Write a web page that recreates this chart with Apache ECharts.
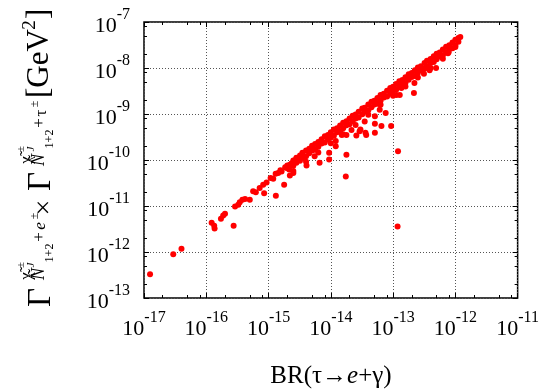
<!DOCTYPE html>
<html><head><meta charset="utf-8">
<script src="https://cdn.jsdelivr.net/npm/echarts@6/dist/echarts.min.js"></script>
<style>html,body{margin:0;padding:0;background:#fff}#c{width:542px;height:389px}</style>
</head><body><div id="c"></div>
<script>
// ---- data ----
const xMajorExponents = [-17, -16, -15, -14, -13, -12, -11];
const yMajorExponents = [-13, -12, -11, -10, -9, -8, -7];
const minorMantissas = [2, 5, 8];

// dense band along the upper envelope: [BR(tau->e gamma), Gamma x Gamma]
const bandPoints = [
 [2.5e-15,9.8e-11],[2.5e-15,7.5e-11],[2.5e-15,5.8e-11],
 [2.8e-15,1.12e-10],[2.8e-15,8.7e-11],
 [3.2e-15,1.25e-10],[3.2e-15,9.6e-11],
 [3.5e-15,1.44e-10],[3.5e-15,1.12e-10],
 [4.0e-15,1.6e-10],[4.0e-15,1.2e-10],[4.0e-15,9.2e-11],
 [4.5e-15,1.76e-10],[4.5e-15,1.4e-10],
 [5.0e-15,2.05e-10],[5.0e-15,1.6e-10],
 [5.6e-15,2.24e-10],[5.6e-15,1.68e-10],
 [6.3e-15,2.46e-10],[6.3e-15,1.95e-10],[6.3e-15,1.45e-10],
 [7.1e-15,2.84e-10],[7.1e-15,2.27e-10],
 [8.0e-15,3.28e-10],[8.0e-15,2.4e-10],
 [9.0e-15,3.51e-10],[9.0e-15,2.79e-10],
 [1.0e-14,4.0e-10],[1.0e-14,3.1e-10],[1.0e-14,2.3e-10],
 [1.12e-14,4.59e-10],[1.12e-14,3.36e-10],
 [1.26e-14,4.91e-10],[1.26e-14,4.03e-10],
 [1.41e-14,5.64e-10],[1.41e-14,4.23e-10],
 [1.58e-14,6.48e-10],[1.58e-14,4.9e-10],[1.58e-14,3.63e-10],
 [1.78e-14,6.94e-10],[1.78e-14,5.7e-10],
 [2.0e-14,8.0e-10],[2.0e-14,6.0e-10],
 [2.24e-14,9.18e-10],[2.24e-14,6.94e-10],
 [2.5e-14,9.75e-10],[2.5e-14,8.0e-10],[2.5e-14,5.75e-10],
 [2.8e-14,1.12e-9],[2.8e-14,8.4e-10],
 [3.2e-14,1.31e-9],[3.2e-14,9.9e-10],
 [3.5e-14,1.37e-9],[3.5e-14,1.12e-9],
 [4.0e-14,1.6e-9],[4.0e-14,1.2e-9],[4.0e-14,9.6e-10],
 [4.5e-14,1.85e-9],[4.5e-14,1.4e-9],
 [5.0e-14,1.95e-9],[5.0e-14,1.6e-9],
 [5.6e-14,2.24e-9],[5.6e-14,1.68e-9],
 [6.3e-14,2.58e-9],[6.3e-14,1.95e-9],[6.3e-14,1.58e-9],
 [7.1e-14,2.77e-9],[7.1e-14,2.27e-9],
 [8.0e-14,3.2e-9],[8.0e-14,2.4e-9],
 [9.0e-14,3.69e-9],[9.0e-14,2.79e-9],
 [1.0e-13,3.9e-9],[1.0e-13,3.2e-9],[1.0e-13,2.5e-9],
 [1.12e-13,4.48e-9],[1.12e-13,3.36e-9],
 [1.26e-13,5.17e-9],[1.26e-13,3.9e-9],
 [1.41e-13,5.5e-9],[1.41e-13,4.51e-9],
 [1.58e-13,6.32e-9],[1.58e-13,4.74e-9],[1.58e-13,3.95e-9],
 [1.78e-13,7.3e-9],[1.78e-13,5.52e-9],
 [2.0e-13,7.8e-9],[2.0e-13,6.4e-9],
 [2.24e-13,8.96e-9],[2.24e-13,6.72e-9],
 [2.5e-13,1.03e-8],[2.5e-13,7.75e-9],[2.5e-13,6.25e-9],
 [2.8e-13,1.09e-8],[2.8e-13,8.96e-9],
 [3.2e-13,1.28e-8],[3.2e-13,9.6e-9],
 [3.5e-13,1.44e-8],[3.5e-13,1.09e-8],
 [4.0e-13,1.56e-8],[4.0e-13,1.28e-8],[4.0e-13,1.0e-8],
 [4.5e-13,1.8e-8],[4.5e-13,1.35e-8],
 [5.0e-13,2.05e-8],[5.0e-13,1.55e-8],
 [5.6e-13,2.18e-8],[5.6e-13,1.79e-8],
 [6.3e-13,2.52e-8],[6.3e-13,1.89e-8],[6.3e-13,1.58e-8],
 [7.1e-13,2.91e-8],[7.1e-13,2.2e-8],
 [8.0e-13,3.12e-8],[8.0e-13,2.56e-8],
 [9.0e-13,3.6e-8],[9.0e-13,2.7e-8],
 [1.0e-12,4.1e-8],[1.0e-12,3.1e-8],
 [1.12e-12,4.48e-8],[1.12e-12,3.7e-8],
 [1.2e-12,4.7e-8]
];

// sparser start of the band
const lowBandPoints = [
 [1.08e-15,4.07e-11],[1.19e-15,3.9e-11],[1.3e-15,5.0e-11],[1.43e-15,5.2e-11],
 [1.55e-15,6.0e-11],[1.62e-15,5.6e-11],[1.85e-15,7.0e-11],[1.95e-15,6.7e-11],
 [2.0e-15,7.6e-11],[2.14e-15,6.2e-11],[2.2e-15,7.9e-11],[2.2e-15,4.6e-11],
 [2.35e-15,8.5e-11],[2.6e-15,9.8e-11]
];

// isolated points
const outlierPoints = [
 [1.25e-17,3.3e-13],[2.95e-17,8.9e-13],[4.0e-17,1.17e-12],
 [1.22e-16,4.3e-12],[1.34e-16,3.7e-12],[1.36e-16,3.25e-12],[1.72e-16,5.3e-12],
 [1.87e-16,6.2e-12],[2.0e-16,6.8e-12],[2.75e-16,3.7e-12],[2.9e-16,9.8e-12],
 [3.26e-16,1.07e-11],[3.45e-16,1.2e-11],[3.8e-16,1.37e-11],[4.2e-16,1.42e-11],
 [5.0e-16,1.37e-11],[5.66e-16,2.09e-11],[6.25e-16,2.0e-11],[7.2e-16,2.47e-11],
 [8.2e-16,2.9e-11],[8.5e-16,1.9e-11],[9.3e-16,3.26e-11],[1.31e-15,1.67e-11],
 [1.78e-15,2.9e-11],[2.5e-15,5.2e-11],[4.07e-15,7.6e-11],[5.5e-15,1.2e-10],
 [6.6e-15,8.7e-11],[9.4e-15,1.43e-10],[9.4e-15,1.03e-10],[1.2e-14,2.6e-10],
 [1.2e-14,2.0e-10],[1.78e-14,1.3e-10],[1.74e-14,4.4e-11],[1.5e-14,3.5e-10],
 [1.78e-14,3.5e-10],[2.15e-14,4.5e-10],[2.57e-14,3.4e-10],[2.9e-14,4.2e-10],
 [2.99e-14,4.6e-10],[3.5e-14,6.9e-10],[3.6e-14,3.9e-10],[3.7e-14,3.5e-10],
 [5.1e-14,8.9e-10],[5.1e-14,6.1e-10],[5.1e-14,3.9e-10],[6.1e-14,1.24e-9],
 [6.5e-14,5.5e-10],[7.6e-14,1.05e-9],[9.3e-14,5.5e-10],[1.2e-13,1.55e-10],
 [1.18e-13,3.6e-12],[1.13e-13,2.6e-9],[1.28e-13,2.6e-9],[1.36e-13,3.67e-9],
 [2.16e-13,2.86e-9],[2.2e-13,4.7e-9],[3.13e-13,7.5e-9],[3.86e-13,8.9e-9],
 [4.9e-13,1.0e-8],[7.6e-13,2.1e-8],[7.8e-13,2.2e-8],[1.0e-12,2.86e-8]
];

// ---- chart ----
const SERIF = '"Liberation Serif","Times New Roman",serif';
const allPoints = bandPoints.concat(lowBandPoints, outlierPoints);

function minorValues(exps) {
  const out = [];
  for (let i = 0; i < exps.length - 1; i++) {
    minorMantissas.forEach(m => out.push(m * Math.pow(10, exps[i])));
  }
  return out;
}
const xMin = Math.pow(10, xMajorExponents[0]), xMax = Math.pow(10, xMajorExponents[xMajorExponents.length - 1]);
const yMin = Math.pow(10, yMajorExponents[0]), yMax = Math.pow(10, yMajorExponents[yMajorExponents.length - 1]);

const labelRich = {
  b: {fontFamily: SERIF, fontSize: 22, lineHeight: 30, verticalAlign: 'bottom', color: '#000'},
  s: {fontFamily: SERIF, fontSize: 16, lineHeight: 12, verticalAlign: 'top', color: '#000'}
};
function powLabel(v) {
  const e = Math.round(Math.log10(v));
  return '{b|10}{s|' + e + '}';
}

function majorAxis(pos, min, max, withLabel, withSplit) {
  return {
    type: 'log', logBase: 10, min: min, max: max, splitNumber: 6, position: pos,
    axisLine: {show: false},
    axisTick: {show: true, inside: true, length: 5, lineStyle: {color: '#000', width: 1}},
    minorTick: {show: false},
    splitLine: {show: withSplit, lineStyle: {color: '#555', width: 1, type: [1, 2]}},
    axisLabel: withLabel ? {show: true, margin: pos === 'bottom' ? 12 : 14, formatter: powLabel, rich: labelRich} : {show: false}
  };
}
function minorAxis(pos, min, max, vals) {
  return {
    type: 'log', logBase: 10, min: min, max: max, position: pos,
    axisLine: {show: false},
    axisTick: {show: true, inside: true, length: 3, customValues: vals, lineStyle: {color: '#000', width: 1}},
    splitLine: {show: false},
    axisLabel: {show: false}
  };
}

const xMinor = minorValues(xMajorExponents);
const yMinor = minorValues(yMajorExponents);

function rt(text, x, y, size, opts) {
  opts = opts || {};
  return {
    type: 'text', x: x, y: y, rotation: Math.PI / 2, silent: true,
    style: {
      text: text, fill: '#000',
      font: (opts.italic ? 'italic ' : '') + size + 'px ' + SERIF,
      align: opts.align || 'center', verticalAlign: 'middle',
      textAlign: opts.align || 'center', textVerticalAlign: 'middle'
    }
  };
}

const yTitle = [
  rt('Γ', 41.5, 297.5, 33),
  rt('χ\u0303', 27, 276, 17),
  rt('±', 21, 265, 11),
  rt('J', 31, 265, 11, {italic: true}),
  rt('Ñ', 39, 274, 18, {italic: true}),
  rt('1+2', 50, 253, 12),
  rt('+', 40, 237, 17),
  rt('e', 41, 226, 17, {italic: true}),
  rt('±', 35, 216, 12),
  rt('×', 45, 207.5, 28),
  rt('Γ', 41.5, 181.5, 33),
  rt('χ\u0303', 27, 160, 17),
  rt('±', 21, 149, 11),
  rt('J', 31, 149, 11, {italic: true}),
  rt('Ñ', 39, 160, 18, {italic: true}),
  rt('1+2', 50, 139, 12),
  rt('+', 40, 123, 17),
  rt('τ', 41.5, 113, 17),
  rt('±', 35, 104, 12),
  rt('[GeV', 40, 98, 31, {align: 'left'}),
  rt('2', 30, 25, 19),
  rt(']', 40, 19, 31, {align: 'left'})
];

const chart = echarts.init(document.getElementById('c'), null, {renderer: 'canvas'});
chart.setOption({
  animation: false,
  backgroundColor: '#fff',
  grid: {left: 144, right: 24, top: 22, bottom: 91, show: true, borderColor: '#000', borderWidth: 1.5, backgroundColor: 'transparent'},
  xAxis: [
    majorAxis('bottom', xMin, xMax, true, true),
    minorAxis('bottom', xMin, xMax, xMinor),
    majorAxis('top', xMin, xMax, false, false),
    minorAxis('top', xMin, xMax, xMinor)
  ],
  yAxis: [
    majorAxis('left', yMin, yMax, true, true),
    minorAxis('left', yMin, yMax, yMinor),
    majorAxis('right', yMin, yMax, false, false),
    minorAxis('right', yMin, yMax, yMinor)
  ],
  series: [{
    type: 'scatter', xAxisIndex: 0, yAxisIndex: 0,
    symbol: 'circle', symbolSize: 6,
    itemStyle: {color: '#ff0000', opacity: 1},
    data: allPoints
  }],
  graphic: [
    {
      type: 'text', x: 331, y: 376, silent: true,
      style: {
        text: '{r|BR(τ→}{i|e}{r|+γ)}',
        align: 'center', verticalAlign: 'middle', textAlign: 'center', textVerticalAlign: 'middle',
        rich: {
          r: {fontFamily: SERIF, fontSize: 25, fill: '#000', color: '#000'},
          i: {fontFamily: SERIF, fontSize: 25, fontStyle: 'italic', fill: '#000', color: '#000'}
        }
      }
    }
  ].concat(yTitle)
});
</script>
</body></html>
